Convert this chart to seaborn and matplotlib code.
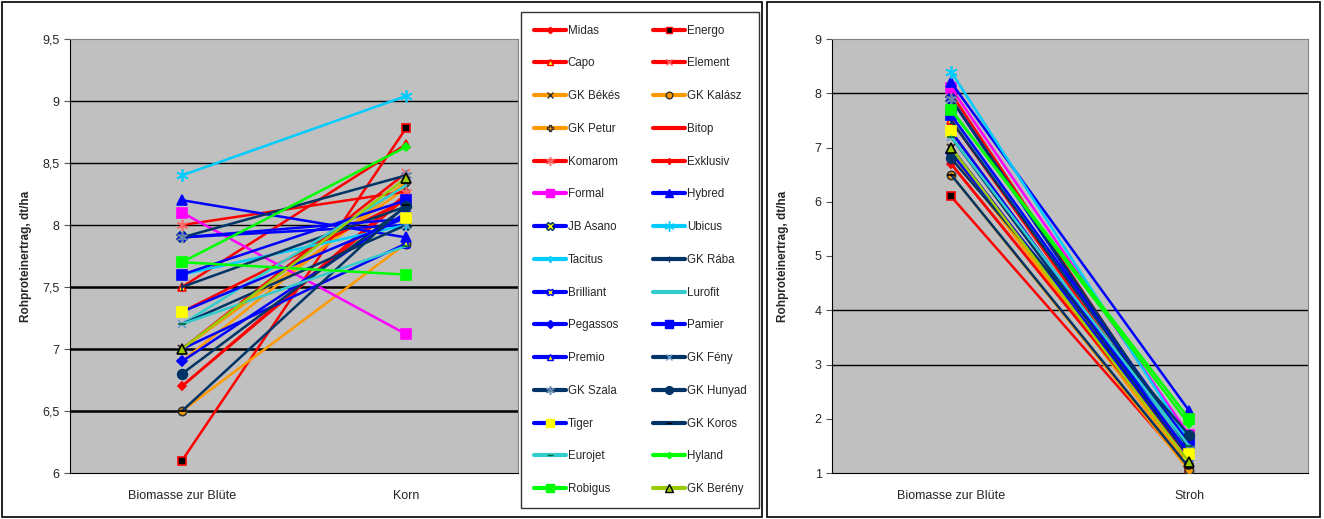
import numpy as np
import pandas as pd
import seaborn as sns
import matplotlib.pyplot as plt
from matplotlib.patches import Rectangle
from matplotlib.lines import Line2D

sns.set_style("white")
plt.rcParams["font.family"] = ["Liberation Sans", "DejaVu Sans"]

varieties = ["Midas", "Energo", "Capo", "Element", "GK Békés", "GK Kalász",
             "GK Petur", "Bitop", "Komarom", "Exklusiv", "Formal", "Hybred",
             "JB Asano", "Ubicus", "Tacitus", "GK Rába", "Brilliant", "Lurofit",
             "Pegassos", "Pamier", "Premio", "GK Fény", "GK Szala", "GK Hunyad",
             "Tiger", "GK Koros", "Eurojet", "Hyland", "Robigus", "GK Berény"]

biomasse = [6.7, 6.1, 7.5, 7.0, 7.0, 6.5, 6.9, 7.3, 8.0, 6.7, 8.1, 8.2,
            7.9, 8.4, 7.6, 7.5, 7.9, 7.2, 6.9, 7.6, 7.0, 7.2, 7.9, 6.8,
            7.3, 6.5, 7.2, 7.7, 7.7, 7.0]
korn = [8.25, 8.78, 8.65, 8.42, 8.30, 7.85, 8.35, 8.20, 8.27, 8.22, 7.12, 7.90,
        8.00, 9.04, 8.00, 8.15, 8.05, 8.32, 8.10, 8.20, 7.85, 8.00, 8.40, 8.15,
        8.06, 8.16, 7.83, 8.63, 7.60, 8.38]
stroh = [1.30, 1.10, 1.35, 1.30, 1.10, 1.05, 1.15, 1.35, 1.40, 1.30, 1.70, 2.15,
         1.40, 1.60, 1.50, 1.50, 1.40, 1.45, 1.55, 1.55, 1.30, 1.30, 1.45, 1.70,
         1.35, 1.10, 1.50, 1.90, 2.00, 1.20]

RED, ORA, MAG, BLU, CYA = "#FF0000", "#FF9900", "#FF00FF", "#0000FF", "#00CCFF"
NAV, TEA, GRN, OLV = "#003366", "#33CCCC", "#00FF00", "#99CC00"
AST = (6, 2, 0)  # asterisk marker
# line colour, marker, face, edge, size
styles = {
    "Midas": (RED, "D", RED, RED, 4),
    "Energo": (RED, "s", "black", RED, 6),
    "Capo": (RED, "^", "yellow", RED, 6),
    "Element": (RED, "x", RED, "#FF6666", 6),
    "GK Békés": (ORA, "x", "black", "#333333", 6),
    "GK Kalász": (ORA, "o", ORA, "#333333", 6),
    "GK Petur": (ORA, "P", ORA, "#333333", 6),
    "Bitop": (RED, None, RED, RED, 0),
    "Komarom": (RED, AST, "#FF6666", "#FF6666", 8),
    "Exklusiv": (RED, "d", RED, RED, 4),
    "Formal": (MAG, "s", MAG, MAG, 7),
    "Hybred": (BLU, "^", BLU, BLU, 7),
    "JB Asano": (BLU, "X", "yellow", NAV, 7),
    "Ubicus": (CYA, AST, CYA, CYA, 9),
    "Tacitus": (CYA, "d", CYA, CYA, 4),
    "GK Rába": (NAV, "|", NAV, NAV, 6),
    "Brilliant": (BLU, "X", "yellow", BLU, 6),
    "Lurofit": (TEA, None, TEA, TEA, 0),
    "Pegassos": (BLU, "D", BLU, BLU, 5),
    "Pamier": (BLU, "s", BLU, BLU, 7),
    "Premio": (BLU, "^", "yellow", BLU, 6),
    "GK Fény": (NAV, "x", "#6699CC", "#6699CC", 6),
    "GK Szala": (NAV, AST, "#6688AA", "#6688AA", 8),
    "GK Hunyad": (NAV, "o", NAV, NAV, 7),
    "Tiger": (BLU, "s", "yellow", "yellow", 7),
    "GK Koros": (NAV, "_", "black", "black", 6),
    "Eurojet": (TEA, "_", "#006633", "#006633", 6),
    "Hyland": (GRN, "D", GRN, GRN, 4),
    "Robigus": (GRN, "s", GRN, GRN, 7),
    "GK Berény": (OLV, "^", OLV, "black", 7),
}

left_df = pd.DataFrame({"Sorte": varieties * 2,
                        "Teil": ["Biomasse zur Blüte"] * 30 + ["Korn"] * 30,
                        "Wert": biomasse + korn})
right_df = pd.DataFrame({"Sorte": varieties * 2,
                         "Teil": ["Biomasse zur Blüte"] * 30 + ["Stroh"] * 30,
                         "Wert": biomasse + stroh})

fig = plt.figure(figsize=(13.24, 5.19), dpi=100)
ax1 = fig.add_axes([70 / 1324, 1 - 473 / 519, 448 / 1324, 434 / 519])
ax2 = fig.add_axes([832 / 1324, 1 - 473 / 519, 476 / 1324, 434 / 519])

for ax, df in [(ax1, left_df), (ax2, right_df)]:
    ax.set_facecolor("#C0C0C0")
    for v in varieties:
        c, m, fc, ec, ms = styles[v]
        sns.lineplot(data=df[df["Sorte"] == v], x="Teil", y="Wert", ax=ax,
                     color=c, lw=1.8, marker=m, markersize=ms,
                     markerfacecolor=fc, markeredgecolor=ec, markeredgewidth=1.2,
                     legend=False, zorder=3)
    ax.set_xlim(-0.5, 1.5)
    ax.set_xlabel("")
    ax.set_ylabel("Rohproteinertrag, dt/ha", fontsize=8.5, fontweight="bold")
    ax.yaxis.set_label_coords(-0.085 if ax is ax1 else -0.09, 0.5)
    for s in ["top", "right"]:
        ax.spines[s].set_color("#808080")
    for s in ["left", "bottom"]:
        ax.spines[s].set_color("black")
    ax.set_xticks([-0.5, 0.5, 1.5], minor=True)
    ax.tick_params(axis="x", which="major", length=0, labelsize=9, pad=12)
    ax.tick_params(axis="x", which="minor", length=4, color="#555555")
    ax.tick_params(axis="y", length=4, labelsize=9, color="#555555", left=True)

# left panel
ax1.set_ylim(6, 9.5)
left_ticks = [6, 6.5, 7, 7.5, 8, 8.5, 9, 9.5]
ax1.set_yticks(left_ticks)
ax1.set_yticklabels([str(t).replace(".", ",").replace(",0", "") for t in left_ticks])
for y, lw in [(6.5, 1.8), (7, 1.8), (7.5, 1.8), (8, 1.0), (8.5, 1.0), (9, 1.0)]:
    ax1.axhline(y, color="black", lw=lw, zorder=1)

# right panel
ax2.set_ylim(1, 9)
ax2.set_yticks(range(1, 10))
for y in [8, 4, 3]:
    ax2.axhline(y, color="black", lw=1.0, zorder=1)

# legend, filled row by row like the original
order = varieties[0::2] + varieties[1::2]
handles = []
for v in order:
    c, m, fc, ec, ms = styles[v]
    handles.append(Line2D([0], [0], color=c, lw=3, marker=m, markersize=ms * 0.8,
                          markerfacecolor=fc, markeredgecolor=ec))
leg = fig.legend(handles=handles, labels=order, ncol=2, loc="upper left",
                 bbox_to_anchor=(521 / 1324, 1 - 12 / 519), borderaxespad=0,
                 fontsize=8.3, labelspacing=1.8, handlelength=2.8,
                 handletextpad=0.15, columnspacing=2.9, borderpad=1.1,
                 frameon=True, fancybox=False)
leg.get_frame().set_edgecolor("black")
leg.get_frame().set_linewidth(1.0)

# panel frames
fig.patches.append(Rectangle((2 / 1324, 2 / 519), 760 / 1324, 515 / 519,
                             transform=fig.transFigure, fill=False,
                             edgecolor="black", lw=1.2))
fig.patches.append(Rectangle((767 / 1324, 2 / 519), 553 / 1324, 515 / 519,
                             transform=fig.transFigure, fill=False,
                             edgecolor="black", lw=1.2))

fig.savefig("out.png", dpi=100)
